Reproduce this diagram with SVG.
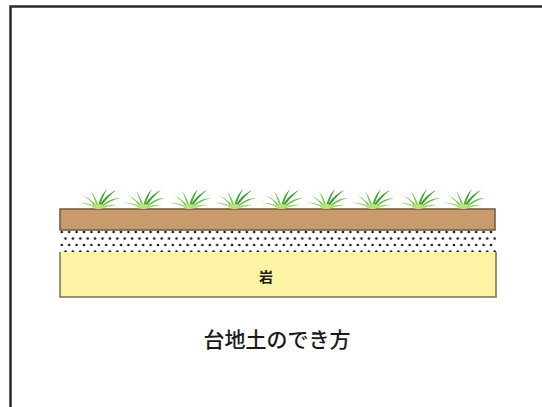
<svg xmlns="http://www.w3.org/2000/svg" width="542" height="407" viewBox="0 0 542 407">
  <style>
    .frame { fill: none; stroke: #2a2a2a; stroke-width: 2.5; }
    .soil { fill: #c99a6c; stroke: #6b5a3c; stroke-width: 1.5; }
    .rock-edge { fill: none; stroke: #7a7448; stroke-width: 1.5; }
    .leaf { stroke: none; }
    .lbl { font-family: "Noto Sans CJK JP", "Noto Sans", sans-serif; fill: #1a1a1a; }
  </style>
  <defs>
    <pattern id="dots" x="60" y="229" width="7.4" height="13" patternUnits="userSpaceOnUse">
      <circle cx="1.8" cy="3" r="1.3" fill="#1c1c1c"/>
      <circle cx="5.5" cy="9.5" r="1.3" fill="#1c1c1c"/>
    </pattern>
    <!-- one tuft of grass, base at (0,0); leaves sweep mostly to the right -->
    <g id="tuft">
      <path class="leaf" d="M-2,0 C-8,-3 -14,-5 -20,-5 C-14,-6 -8,-4 0,-1 Z" fill="#8fd35e"/>
      <path class="leaf" d="M-2,0 C-6,-6 -11,-11 -16,-13 C-10,-11 -5,-6 0,-1 Z" fill="#5db443"/>
      <path class="leaf" d="M-1,0 C-3,-7 -5,-13 -7,-17 C-3,-12 -1,-7 1,-1 Z" fill="#7ccc55"/>
      <path class="leaf" d="M0,0 C1,-8 4,-14 9,-19 C6,-13 3,-7 2,-1 Z" fill="#4aa63c"/>
      <path class="leaf" d="M0,0 C4,-8 10,-14 18,-18 C11,-12 6,-6 2,0 Z" fill="#3f9e38"/>
      <path class="leaf" d="M1,0 C7,-6 14,-10 22,-10 C14,-8 8,-4 3,0 Z" fill="#6cc04a"/>
      <path class="leaf" d="M1,0 C7,-3 13,-4 19,-3 C13,-2 7,-1 2,1 Z" fill="#9ad96c"/>
      <ellipse cx="0" cy="-1.5" rx="6" ry="2.5" fill="#b8e47e"/>
    </g>
  </defs>

  <!-- frame -->
  <path class="frame" d="M10.5,407 L10.5,6.5 L542,6.5"/>

  <!-- rock layer -->
  <g id="rock">
    <rect x="60" y="252" width="436" height="45" fill="#fdf3a4"/>
    <path class="rock-edge" d="M60,252 L60,297 L496,297 L496,252"/>
    <text class="lbl" x="266" y="282" font-size="14" font-weight="bold" text-anchor="middle">岩</text>
  </g>

  <!-- gravel layer -->
  <g id="gravel">
    <rect x="60" y="230" width="436" height="22" fill="url(#dots)"/>
  </g>

  <!-- topsoil layer -->
  <g id="topsoil">
    <rect class="soil" x="60" y="209" width="435" height="21"/>
  </g>

  <!-- grass -->
  <g id="grass">
    <use href="#tuft" x="98" y="208"/>
    <use href="#tuft" x="143" y="208"/>
    <use href="#tuft" x="189" y="208"/>
    <use href="#tuft" x="234" y="208"/>
    <use href="#tuft" x="281" y="208"/>
    <use href="#tuft" x="326" y="208"/>
    <use href="#tuft" x="372" y="208"/>
    <use href="#tuft" x="418" y="208"/>
    <use href="#tuft" x="463" y="208"/>
  </g>

  <!-- caption -->
  <g id="caption">
    <text class="lbl" x="277" y="347" font-size="21" font-weight="500" text-anchor="middle">台地土のでき方</text>
  </g>
</svg>
